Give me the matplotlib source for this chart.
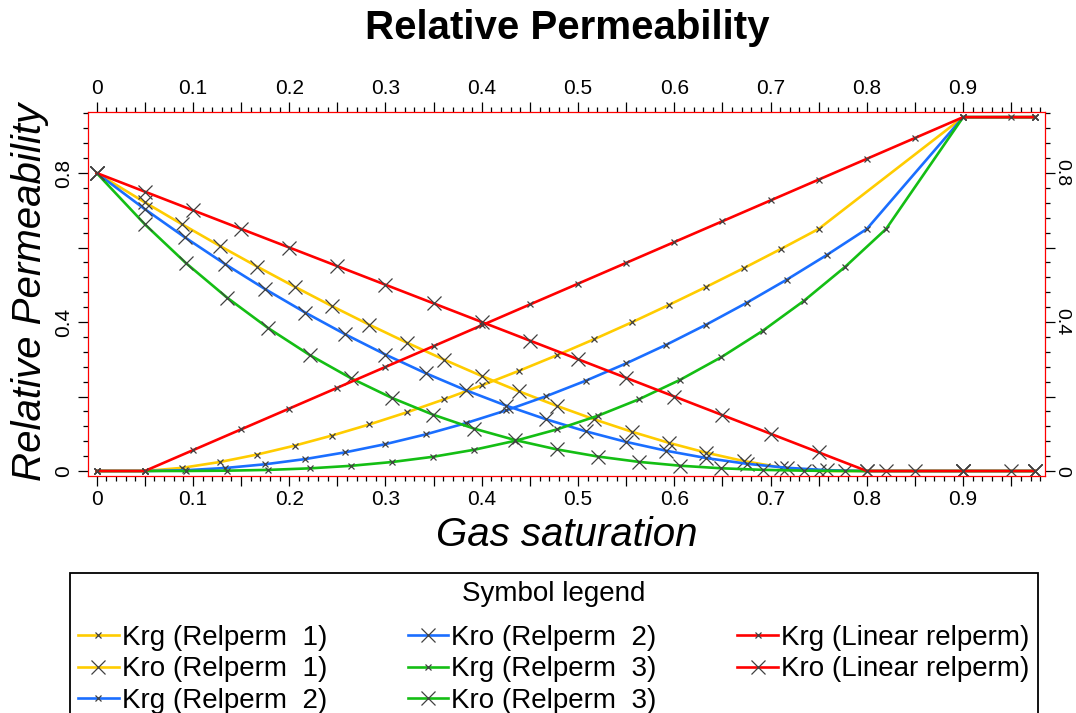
import matplotlib
matplotlib.use("Agg")
import matplotlib.pyplot as plt
from matplotlib.ticker import FixedLocator
from matplotlib.transforms import ScaledTranslation

plt.rcParams['font.family'] = ['Liberation Sans', 'DejaVu Sans']

# Relperm 1
sg_r1 = [0, 0.05, 0.0889, 0.1278, 0.1667, 0.2056, 0.2444, 0.2833, 0.3222, 0.3611, 0.4, 0.4389,
         0.4778, 0.5167, 0.5556, 0.5944, 0.6333, 0.6722, 0.7111, 0.75, 0.9, 0.975]
krg_r1 = [0, 0, 0.0085, 0.0241, 0.0442, 0.0681, 0.0952, 0.1251, 0.1576, 0.1926, 0.2298, 0.2692,
          0.3105, 0.3538, 0.3989, 0.4459, 0.4945, 0.5447, 0.5966, 0.65, 0.95, 0.95]
kro_r1 = [0.8, 0.7213, 0.6621, 0.6045, 0.5488, 0.4948, 0.4427, 0.3926, 0.3446, 0.2987, 0.2550, 0.2137,
          0.1750, 0.1388, 0.1056, 0.0756, 0.0491, 0.0267, 0.0094, 0, 0, 0]

# Relperm 2
sg_r2 = [0, 0.05, 0.0917, 0.1333, 0.175, 0.2167, 0.2583, 0.3, 0.3417, 0.3833, 0.425, 0.4667,
         0.5083, 0.55, 0.5917, 0.6333, 0.675, 0.7167, 0.7583, 0.8, 0.9, 0.975]
krg_r2 = [0, 0, 0.0020, 0.0080, 0.0181, 0.0321, 0.0502, 0.0722, 0.0983, 0.1284, 0.1625, 0.2006,
          0.2427, 0.2889, 0.3390, 0.3932, 0.4514, 0.5136, 0.5798, 0.65, 0.95, 0.95]
kro_r2 = [0.8, 0.7031, 0.6272, 0.5556, 0.4883, 0.4253, 0.3668, 0.3125, 0.2626, 0.2170, 0.1758, 0.1389,
          0.1063, 0.0781, 0.0543, 0.0347, 0.0195, 0.0087, 0.0022, 0, 0, 0]

# Relperm 3
sg_r3 = [0, 0.05, 0.0928, 0.1356, 0.1783, 0.2211, 0.2639, 0.3067, 0.3494, 0.3922, 0.435, 0.4778,
         0.5206, 0.5633, 0.6061, 0.6489, 0.6917, 0.7344, 0.7772, 0.82, 0.9, 0.975]
krg_r3 = [0, 0, 0.0001, 0.0009, 0.0030, 0.0071, 0.0139, 0.0241, 0.0382, 0.0571, 0.0813, 0.1115,
          0.1483, 0.1926, 0.2449, 0.3058, 0.3762, 0.4565, 0.5476, 0.65, 0.95, 0.95]
kro_r3 = [0.8, 0.6624, 0.5580, 0.4651, 0.3834, 0.3117, 0.2495, 0.1962, 0.1512, 0.1136, 0.0828, 0.0581,
          0.0389, 0.0245, 0.0142, 0.0073, 0.0031, 0.0009, 0.0001, 0, 0, 0]

# Linear relperm
sg_lin = [0, 0.05, 0.1, 0.15, 0.2, 0.25, 0.3, 0.35, 0.4, 0.45, 0.5, 0.55, 0.6, 0.65, 0.7,
          0.75, 0.8, 0.85, 0.9, 0.95, 0.975]
krg_lin = [0, 0, 0.0559, 0.1118, 0.1676, 0.2235, 0.2794, 0.3353, 0.3912, 0.4471, 0.5029, 0.5588,
           0.6147, 0.6706, 0.7265, 0.7824, 0.8382, 0.8941, 0.95, 0.95, 0.95]
kro_lin = [0.8, 0.75, 0.7, 0.65, 0.6, 0.55, 0.5, 0.45, 0.4, 0.35, 0.3, 0.25, 0.2, 0.15, 0.1,
           0.05, 0, 0, 0, 0, 0]

x_labels = ["0", "0.1", "0.2", "0.3", "0.4", "0.5", "0.6", "0.7", "0.8", "0.9"]
y_labels = ["0", "0.4", "0.8"]

yellow = '#FFCC00'
blue = '#1A6EFF'
green = '#14BE14'
red = '#FF0000'
mk = '#404040'

fig = plt.figure(figsize=(10.76, 7.13), dpi=100)
ax = fig.add_axes([88 / 1076, 1 - 476 / 713, (1045 - 88) / 1076, (476 - 112) / 713])

series = [
    (sg_r1, krg_r1, yellow, 'Krg (Relperm  1)', 'small'),
    (sg_r1, kro_r1, yellow, 'Kro (Relperm  1)', 'big'),
    (sg_r2, krg_r2, blue, 'Krg (Relperm  2)', 'small'),
    (sg_r2, kro_r2, blue, 'Kro (Relperm  2)', 'big'),
    (sg_r3, krg_r3, green, 'Krg (Relperm  3)', 'small'),
    (sg_r3, kro_r3, green, 'Kro (Relperm  3)', 'big'),
    (sg_lin, krg_lin, red, 'Krg (Linear relperm)', 'small'),
    (sg_lin, kro_lin, red, 'Kro (Linear relperm)', 'big'),
]
for x, y, c, lab, kind in series:
    ms = 4 if kind == 'small' else 9.5
    ax.plot(x, y, color=c, lw=1.9, marker='x', ms=ms, mec=mk, mew=0.9, label=lab)

ax.set_xlim(-0.009, 0.985)
ax.set_ylim(-0.0134, 0.9638)

for s in ax.spines.values():
    s.set_color(red)
    s.set_linewidth(0.9)

# x ticks: long every 0.05, labels every 0.1, minor every 0.01
xmaj = [i * 0.05 for i in range(20)]
ax.xaxis.set_major_locator(FixedLocator(xmaj))
ax.set_xticklabels([x_labels[i // 2] if i % 2 == 0 else '' for i in range(20)])
ax.xaxis.set_minor_locator(FixedLocator([i * 0.01 for i in range(99)]))

ymaj = [0, 0.2, 0.4, 0.6, 0.8]
ax.yaxis.set_major_locator(FixedLocator(ymaj))
ax.set_yticklabels(['0', '', '0.4', '', '0.8'])
ax.yaxis.set_minor_locator(FixedLocator([i * 0.04 for i in range(25)]))

ax.tick_params(which='both', direction='out', color='black', width=0.9,
               top=True, right=True, labeltop=True, labelright=True, labelsize=15)
ax.tick_params(which='major', length=7)
ax.tick_params(which='minor', length=3.5)
ax.tick_params(axis='x', pad=3)
ax.tick_params(axis='y', pad=4)

# right-hand labels sit a little closer to the axis
shift = ScaledTranslation(-5 / 72, 0, fig.dpi_scale_trans)
for t in ax.yaxis.get_major_ticks():
    t.label1.set_rotation(90)
    t.label1.set_va('center')
    t.label2.set_rotation(270)
    t.label2.set_va('center')
    t.label2.set_fontsize(14)
    t.label2.set_transform(t.label2.get_transform() + shift)

fig.text(0.527, 0.961, 'Relative Permeability', ha='center', va='center',
         fontsize=29, fontweight='bold')
fig.text(0.527, 0.249, 'Gas saturation', ha='center', va='center',
         fontsize=29, fontstyle='italic')
fig.text(0.028, 0.5905, 'Relative Permeability', ha='center', va='center',
         rotation=90, fontsize=29, fontstyle='italic')

leg = fig.legend(loc='upper left', bbox_to_anchor=(70 / 1076, 1 - 573 / 713),
                 ncol=3, title='Symbol legend\n', fontsize=20, title_fontsize=20,
                 frameon=True, fancybox=False, edgecolor='black', framealpha=1,
                 borderaxespad=0, handlelength=1.45, handletextpad=0.12,
                 columnspacing=2.9, labelspacing=0.2, borderpad=0.3)
leg.get_title().set_linespacing(0.3)
leg.get_frame().set_linewidth(1.3)

fig.savefig('out.png', dpi=100)
